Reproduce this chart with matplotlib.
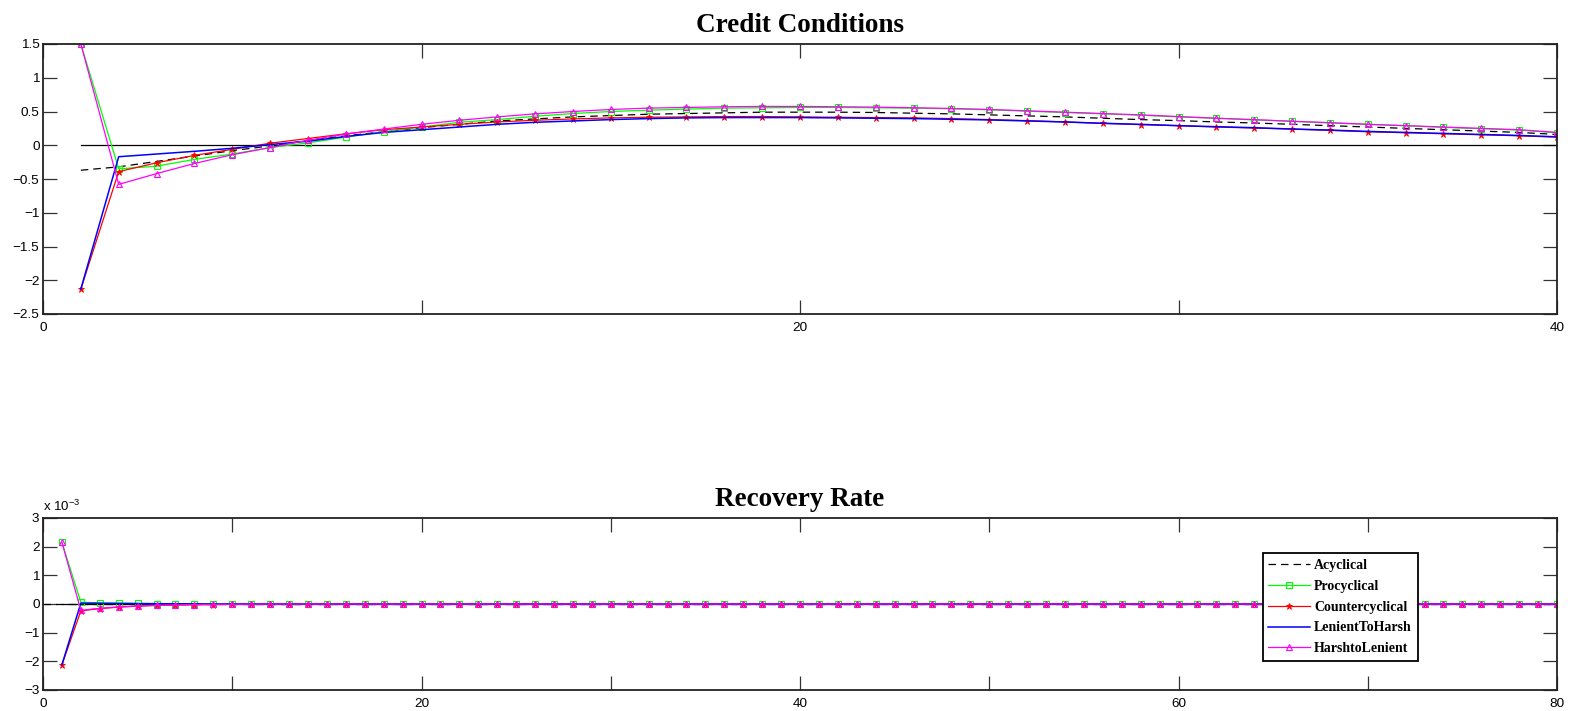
import numpy as np
import matplotlib
matplotlib.use("Agg")
import matplotlib.pyplot as plt

plt.rcParams['font.family'] = ['Liberation Sans', 'DejaVu Sans']
plt.rcParams['mathtext.default'] = 'regular'

# ---- Credit Conditions (periods 1..40)
cc_x = list(range(1, 41))
cc_acyclical = [-0.37, -0.32, -0.24, -0.16, -0.08, -0.01, 0.07, 0.14, 0.20, 0.26,
                0.31, 0.36, 0.39, 0.42, 0.44, 0.46, 0.47, 0.48, 0.49, 0.49,
                0.49, 0.485, 0.475, 0.465, 0.45, 0.435, 0.42, 0.40, 0.38, 0.365,
                0.345, 0.33, 0.31, 0.29, 0.27, 0.25, 0.23, 0.21, 0.19, 0.16]
cc_procyclical = [1.5, -0.35, -0.31, -0.21, -0.13, -0.035, 0.035, 0.12, 0.20, 0.27,
                  0.34, 0.38, 0.43, 0.47, 0.50, 0.52, 0.535, 0.55, 0.555, 0.56,
                  0.56, 0.555, 0.55, 0.54, 0.525, 0.505, 0.485, 0.465, 0.445, 0.42,
                  0.40, 0.375, 0.355, 0.33, 0.31, 0.29, 0.265, 0.245, 0.225, 0.185]
cc_countercyclical = [-2.13, -0.39, -0.26, -0.15, -0.06, 0.03, 0.10, 0.17, 0.23, 0.27,
                      0.31, 0.345, 0.37, 0.39, 0.405, 0.415, 0.42, 0.425, 0.425, 0.42,
                      0.415, 0.41, 0.405, 0.395, 0.38, 0.365, 0.345, 0.325, 0.305, 0.29,
                      0.27, 0.255, 0.24, 0.22, 0.20, 0.185, 0.17, 0.155, 0.14, 0.12]
cc_lenient_to_harsh = [-2.13, -0.17, -0.13, -0.09, -0.045, 0.01, 0.06, 0.13, 0.19, 0.23,
                       0.27, 0.31, 0.34, 0.36, 0.38, 0.395, 0.405, 0.41, 0.41, 0.41,
                       0.405, 0.40, 0.395, 0.385, 0.375, 0.36, 0.345, 0.325, 0.31, 0.29,
                       0.275, 0.26, 0.24, 0.225, 0.205, 0.19, 0.175, 0.16, 0.145, 0.125]
cc_harsh_to_lenient = [1.5, -0.58, -0.42, -0.27, -0.14, -0.035, 0.075, 0.165, 0.24, 0.31,
                       0.37, 0.42, 0.465, 0.50, 0.53, 0.55, 0.56, 0.57, 0.575, 0.575,
                       0.57, 0.565, 0.555, 0.545, 0.53, 0.51, 0.49, 0.47, 0.45, 0.425,
                       0.40, 0.38, 0.355, 0.335, 0.31, 0.29, 0.27, 0.25, 0.23, 0.19]

# ---- Recovery Rate (periods 1..80, in units of 1e-3)
rr_x = list(range(1, 81))
rr_acyc_x = list(range(0, 81))
rr_acyclical = [0.0] * 81
rr_procyclical = [2.15, 0.06, 0.04, 0.03, 0.02, 0.015, 0.01, 0.008, 0.006, 0.005] + [0.0] * 70
rr_countercyclical = [-2.12, -0.24, -0.16, -0.11, -0.075, -0.05, -0.035, -0.025, -0.018, -0.012,
                      -0.008, -0.005] + [0.0] * 68
rr_lenient_to_harsh = [-2.12, 0.03, 0.025, 0.02, 0.015, 0.01, 0.008, 0.006] + [0.0] * 72
rr_harsh_to_lenient = [2.15, -0.22, -0.15, -0.10, -0.07, -0.045, -0.03, -0.02, -0.014, -0.01,
                       -0.006] + [0.0] * 69

labels = ["Acyclical", "Procyclical", "Countercyclical", "LenientToHarsh", "HarshtoLenient"]

W, H = 1572, 711
fig = plt.figure(figsize=(W / 100, H / 100), dpi=100)
ax1 = fig.add_axes([43 / W, (H - 314) / H, 1514 / W, 270 / H])
ax2 = fig.add_axes([43 / W, (H - 690) / H, 1514 / W, 172 / H])


def draw(ax, x, xa, acyc, pro, counter, lenient, harsh):
    ax.plot([x[0], x[-1]], [0, 0], color='black', lw=0.9)
    ax.plot(xa, acyc, color='black', lw=0.9, dashes=(6, 4), label=labels[0])
    ax.plot(x, pro, color='#00ff00', lw=0.9, marker='s', ms=4, mfc='none', mew=0.8, label=labels[1])
    ax.plot(x, counter, color='red', lw=0.9, marker='*', ms=4.5, mew=0.6, label=labels[2])
    ax.plot(x, lenient, color='blue', lw=1.1, label=labels[3])
    ax.plot(x, harsh, color='magenta', lw=0.9, marker='^', ms=5, mfc='none', mew=0.8, label=labels[4])


def fmt(v):
    return ('%g' % v).replace('-', '\u2212')


draw(ax1, cc_x, cc_x, cc_acyclical, cc_procyclical, cc_countercyclical,
     cc_lenient_to_harsh, cc_harsh_to_lenient)
draw(ax2, rr_x, rr_acyc_x, rr_acyclical, rr_procyclical, rr_countercyclical,
     rr_lenient_to_harsh, rr_harsh_to_lenient)

ax1.set_xlim(0, 40)
ax1.set_ylim(-2.5, 1.5)
xt = np.arange(0, 41, 10)
ax1.set_xticks(xt)
ax1.set_xticklabels([fmt(v) if v % 20 == 0 else '' for v in xt])
yt = np.arange(-2.5, 1.51, 0.5)
ax1.set_yticks(yt)
ax1.set_yticklabels([fmt(round(v, 1)) for v in yt])

ax2.set_xlim(0, 80)
ax2.set_ylim(-3, 3)
xt2 = np.arange(0, 81, 10)
ax2.set_xticks(xt2)
ax2.set_xticklabels([fmt(v) if v % 20 == 0 else '' for v in xt2])
yt2 = np.arange(-3, 4, 1)
ax2.set_yticks(yt2)
ax2.set_yticklabels([fmt(v) for v in yt2])
ax2.text(0, 1.025, r'x 10$^{-3}$', transform=ax2.transAxes, ha='left', va='bottom', fontsize=9.5)

for ax in (ax1, ax2):
    ax.tick_params(direction='in', length=10.4, width=0.9, color='#333333',
                   top=True, right=True, labelsize=9.7)
    ax.tick_params(axis='y', pad=2.5)
    ax.tick_params(axis='x', pad=6)
    for s in ax.spines.values():
        s.set_linewidth(1.3)
        s.set_color('#222222')

title_font = dict(family='Liberation Serif', weight='bold', size=19.5)
ax1.set_title("Credit Conditions", pad=8.5, **title_font)
ax2.set_title("Recovery Rate", pad=8.5, **title_font)

leg = ax2.legend(loc='upper left', bbox_to_anchor=(0.8055, 0.795), fancybox=False,
                 framealpha=1, edgecolor='black', handlelength=3.0, handletextpad=0.3,
                 labelspacing=0.56, borderpad=0.42, borderaxespad=0,
                 prop=dict(family='Liberation Serif', weight='bold', size=10))
leg.get_frame().set_linewidth(1.3)

fig.savefig("out.png", dpi=100)
